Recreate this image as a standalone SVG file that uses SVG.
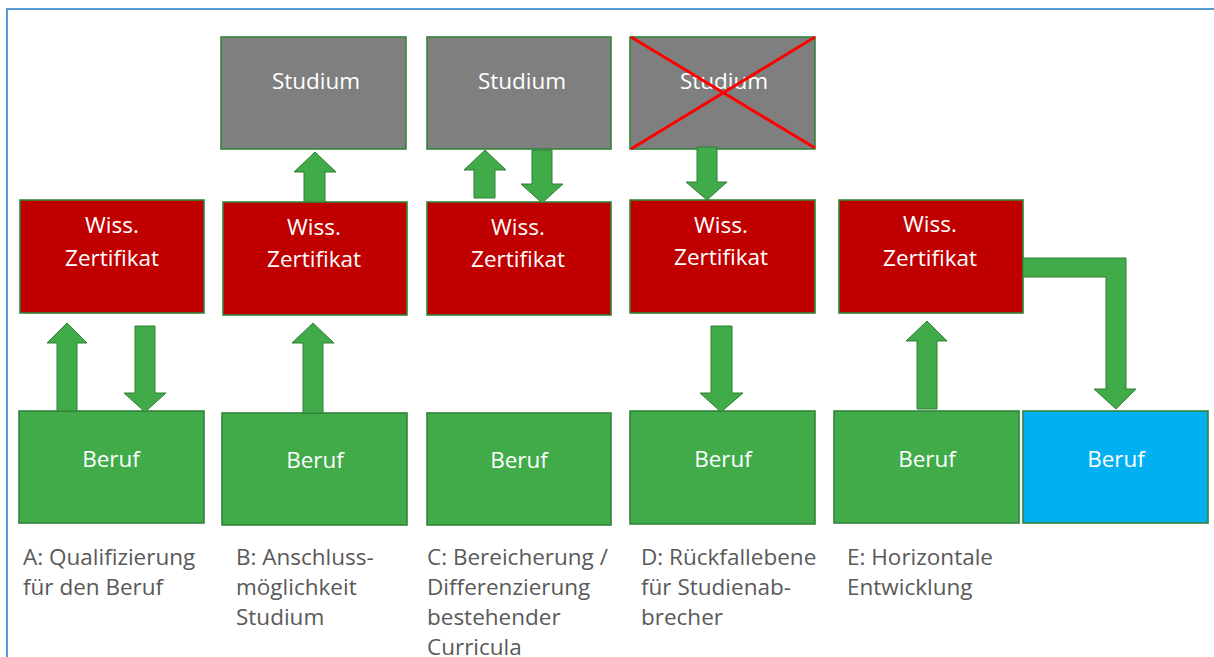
<svg xmlns="http://www.w3.org/2000/svg" width="1214" height="657" viewBox="0 0 1214 657">
<style>
.box{stroke:#33843a;stroke-width:1.6}
.red{fill:#c00000}
.gray{fill:#7f7f7f}
.green{fill:#41ab4a}
.blue{fill:#00b0f0}
.t{font-family:"Open Sans","Liberation Sans",sans-serif;font-size:22.5px;fill:#ffffff;text-anchor:middle}
.lbl{font-family:"Open Sans","Liberation Sans",sans-serif;font-size:22.5px;fill:#595959}
.arr{fill:#41ab4a;stroke:#2f7f35;stroke-width:1}
</style>
<rect width="1214" height="657" fill="#ffffff"/>
<path d="M7,657 V9 H1214" fill="none" stroke="#5b9bd5" stroke-width="2"/>

<g id="A-wiss"><rect class="box red" x="20" y="200" width="184" height="113"/><text class="t" x="112" y="233">Wiss.</text><text class="t" x="112" y="266">Zertifikat</text></g>
<g id="A-beruf"><rect class="box green" x="19" y="411" width="185" height="112"/><text class="t" x="111" y="467">Beruf</text></g>

<g id="B-studium"><rect class="box gray" x="221" y="37" width="185" height="112"/><text class="t" x="316" y="89">Studium</text></g>
<g id="B-wiss"><rect class="box red" x="223" y="202" width="184" height="113"/><text class="t" x="314" y="235">Wiss.</text><text class="t" x="314" y="267">Zertifikat</text></g>
<g id="B-beruf"><rect class="box green" x="222" y="413" width="185" height="112"/><text class="t" x="315" y="468">Beruf</text></g>

<g id="C-studium"><rect class="box gray" x="427" y="37" width="184" height="112"/><text class="t" x="522" y="89">Studium</text></g>
<g id="C-wiss"><rect class="box red" x="427" y="202" width="184" height="113"/><text class="t" x="518" y="235">Wiss.</text><text class="t" x="518" y="267">Zertifikat</text></g>
<g id="C-beruf"><rect class="box green" x="427" y="413" width="184" height="112"/><text class="t" x="519" y="468">Beruf</text></g>

<g id="D-studium"><rect class="box gray" x="630" y="37" width="185" height="112"/><text class="t" x="724" y="89">Studium</text>
<line x1="631" y1="37" x2="815" y2="148" stroke="#ff0000" stroke-width="3"/><line x1="815" y1="37" x2="631" y2="149" stroke="#ff0000" stroke-width="3"/></g>
<g id="D-wiss"><rect class="box red" x="630" y="200" width="185" height="113"/><text class="t" x="721" y="233">Wiss.</text><text class="t" x="721" y="265">Zertifikat</text></g>
<g id="D-beruf"><rect class="box green" x="630" y="411" width="185" height="113"/><text class="t" x="723" y="467">Beruf</text></g>

<g id="E-wiss"><rect class="box red" x="839" y="200" width="184" height="113"/><text class="t" x="930" y="232">Wiss.</text><text class="t" x="930" y="266">Zertifikat</text></g>
<g id="E-beruf"><rect class="box green" x="834" y="411" width="185" height="112"/><text class="t" x="927" y="467">Beruf</text></g>
<g id="E-beruf2"><rect class="box blue" x="1023" y="411" width="185" height="112"/><text class="t" x="1116" y="467">Beruf</text></g>

<g id="connectors">
<polygon class="arr" points="57,411 57,343 47,343 67,323 87,343 77,343 77,411"/>
<polygon class="arr" points="135,326 155,326 155,393 166,393 145,412 124,393 135,393"/>
<polygon class="arr" points="303,413 303,343 292,343 313,323 334,343 323,343 323,413"/>
<polygon class="arr" points="304,202 304,172 294,172 315,152 336,172 325,172 325,202"/>
<polygon class="arr" points="474,198 474,170 464,170 485,150 506,170 495,170 495,198"/>
<polygon class="arr" points="532,150 552,150 552,184 563,184 542,203 521,184 532,184"/>
<polygon class="arr" points="697,147 717,147 717,182 727,182 707,200 686,182 697,182"/>
<polygon class="arr" points="711,326 732,326 732,393 743,393 721,412 700,393 711,393"/>
<polygon class="arr" points="917,409 917,341 906,341 927,321 947,341 937,341 937,409"/>
<polygon class="arr" points="1023,258 1126,258 1126,389 1136,389 1116,409 1094,389 1106,389 1106,277 1023,277"/>
</g>

<g id="labels">
<text class="lbl" x="23" y="565">A: Qualifizierung</text>
<text class="lbl" x="23" y="595">für den Beruf</text>
<text class="lbl" x="236" y="565">B: Anschluss-</text>
<text class="lbl" x="236" y="595">möglichkeit</text>
<text class="lbl" x="236" y="625">Studium</text>
<text class="lbl" x="427" y="565">C: Bereicherung /</text>
<text class="lbl" x="427" y="595">Differenzierung</text>
<text class="lbl" x="427" y="625">bestehender</text>
<text class="lbl" x="427" y="655">Curricula</text>
<text class="lbl" x="641" y="565">D: Rückfallebene</text>
<text class="lbl" x="641" y="595">für Studienab-</text>
<text class="lbl" x="641" y="625">brecher</text>
<text class="lbl" x="847" y="565">E: Horizontale</text>
<text class="lbl" x="847" y="595">Entwicklung</text>
</g>
</svg>
